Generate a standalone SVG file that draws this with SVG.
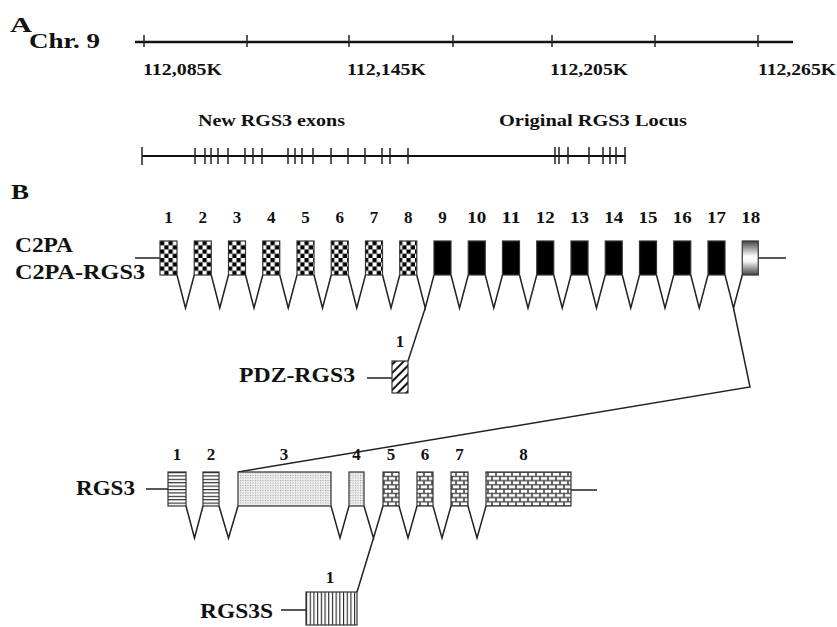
<svg xmlns="http://www.w3.org/2000/svg" width="837" height="627" viewBox="0 0 837 627">
<style>
text{font-family:"Liberation Serif","Times New Roman",serif;font-weight:bold;fill:#111}
.lbl{font-size:22px}
.num{font-size:17px;text-anchor:middle}
.ax{font-size:16px}
.ln{stroke:#222;stroke-width:1.5;fill:none}
.chr{stroke:#111;stroke-width:2.5;fill:none}
.tk{stroke:#222;stroke-width:1.5}
.ex{stroke:#333;stroke-width:1.2}
</style>
<defs>
<pattern id="checker" patternUnits="userSpaceOnUse" width="8.5" height="8.5" x="160" y="241">
<rect width="8.5" height="8.5" fill="#fff"/>
<rect width="4.25" height="4.25" fill="#000"/>
<rect x="4.25" y="4.25" width="4.25" height="4.25" fill="#000"/>
</pattern>
<pattern id="hatch" patternUnits="userSpaceOnUse" width="6" height="6" patternTransform="rotate(45)">
<rect width="6" height="6" fill="#fff"/>
<rect width="2" height="6" fill="#111"/>
</pattern>
<pattern id="hlines" patternUnits="userSpaceOnUse" width="4" height="3.4" y="472">
<rect width="4" height="3.4" fill="#fff"/>
<rect width="4" height="1.1" fill="#222"/>
</pattern>
<pattern id="vlines" patternUnits="userSpaceOnUse" width="3.7" height="4" x="306">
<rect width="3.7" height="4" fill="#fff"/>
<rect width="1.1" height="4" fill="#222"/>
</pattern>
<pattern id="dots" patternUnits="userSpaceOnUse" width="2.5" height="2.5">
<rect width="2.5" height="2.5" fill="#eee"/>
<rect width="1" height="1" fill="#999"/>
</pattern>
<pattern id="brick" patternUnits="userSpaceOnUse" width="8" height="8.5" y="472">
<rect width="8" height="8.5" fill="#444"/>
<rect x="0.8" y="0.8" width="6.4" height="2.9" fill="#fff"/>
<rect x="-3.2" y="5" width="6.4" height="2.9" fill="#fff"/>
<rect x="4.8" y="5" width="6.4" height="2.9" fill="#fff"/>
</pattern>
<linearGradient id="grad18" x1="0" y1="0" x2="0" y2="1">
<stop offset="0" stop-color="#444"/>
<stop offset="0.45" stop-color="#fff"/>
<stop offset="0.6" stop-color="#f4f4f4"/>
<stop offset="1" stop-color="#444"/>
</linearGradient>
</defs>
<rect width="837" height="627" fill="#fff"/>

<!-- Panel A -->
<g id="panelA">
<text class="lbl" x="10" y="32" textLength="22" lengthAdjust="spacingAndGlyphs">A</text>
<text class="lbl" x="29" y="48" textLength="71" lengthAdjust="spacingAndGlyphs">Chr. 9</text>
<line class="chr" x1="135" y1="42" x2="793" y2="42"/>
<g class="tk">
<line x1="144" y1="35" x2="144" y2="47"/><line x1="247" y1="35" x2="247" y2="47"/><line x1="349" y1="35" x2="349" y2="47"/><line x1="453" y1="35" x2="453" y2="47"/><line x1="552" y1="35" x2="552" y2="47"/><line x1="655" y1="35" x2="655" y2="47"/><line x1="758" y1="35" x2="758" y2="47"/>
</g>
<text class="ax" x="143" y="75" textLength="79" lengthAdjust="spacingAndGlyphs">112,085K</text>
<text class="ax" x="347" y="75" textLength="79" lengthAdjust="spacingAndGlyphs">112,145K</text>
<text class="ax" x="550" y="75" textLength="78" lengthAdjust="spacingAndGlyphs">112,205K</text>
<text class="ax" x="758" y="75" textLength="78" lengthAdjust="spacingAndGlyphs">112,265K</text>
<text class="ax" x="198" y="126" style="font-size:17px" textLength="147" lengthAdjust="spacingAndGlyphs">New RGS3 exons</text>
<text class="ax" x="499" y="126" style="font-size:17px" textLength="188" lengthAdjust="spacingAndGlyphs">Original RGS3 Locus</text>
<line class="chr" x1="142" y1="156" x2="626" y2="156" style="stroke-width:2"/>
<path class="tk" d="M142 147V165M195 148V164M205 148V164M211 148V164M218 148V164M228 148V164M245 148V164M253 148V164M262 148V164M288 148V164M295 148V164M302 148V164M313 148V164M331 148V164M348 148V164M365 148V164M382 148V164M390 148V164M408 148V164M555 147V164M559 147V164M568 147V164M589 147V164M603 147V164M610 147V164M616 147V164M625 147V164"/>
</g>

<!-- Panel B -->
<text class="lbl" x="11" y="199" textLength="18" lengthAdjust="spacingAndGlyphs">B</text>

<g id="connectors">
<line class="ln" x1="135" y1="258" x2="160" y2="258"/>
<line class="ln" x1="758" y1="258" x2="786" y2="258"/>
<polyline class="ln" points="177,275 185.5,308 194.25,275"/>
<polyline class="ln" points="211.25,275 219.75,308 228.5,275"/>
<polyline class="ln" points="245.5,275 254,308 262.75,275"/>
<polyline class="ln" points="279.75,275 288.25,308 297,275"/>
<polyline class="ln" points="314,275 322.5,308 331.25,275"/>
<polyline class="ln" points="348.25,275 356.75,308 365.5,275"/>
<polyline class="ln" points="382.5,275 391,308 399.75,275"/>
<polyline class="ln" points="416.75,275 425.25,308 434,275"/>
<polyline class="ln" points="451,275 459.5,308 468.25,275"/>
<polyline class="ln" points="485.25,275 493.75,308 502.5,275"/>
<polyline class="ln" points="519.5,275 528,308 536.75,275"/>
<polyline class="ln" points="553.75,275 562.25,308 571,275"/>
<polyline class="ln" points="588,275 596.5,308 605.25,275"/>
<polyline class="ln" points="622.25,275 630.75,308 639.5,275"/>
<polyline class="ln" points="656.5,275 665,308 673.75,275"/>
<polyline class="ln" points="690.75,275 699.25,308 708,275"/>
<polyline class="ln" points="725,275 733.5,308 742.25,275"/>
<line class="ln" x1="425.25" y1="308" x2="408" y2="361"/>
<line class="ln" x1="367" y1="378" x2="392" y2="378"/>
<polyline class="ln" points="733.5,308 750,387 238,472"/>
<line class="ln" x1="146" y1="489" x2="168" y2="489"/>
<line class="ln" x1="571" y1="490" x2="597" y2="490"/>
<polyline class="ln" points="186,506 194.5,538 203,506"/>
<polyline class="ln" points="219,506 228.5,538 238,506"/>
<polyline class="ln" points="331,506 340,538 349,506"/>
<polyline class="ln" points="364,506 373.5,538 383,506"/>
<polyline class="ln" points="399,506 408,538 417,506"/>
<polyline class="ln" points="433,506 442,538 451,506"/>
<polyline class="ln" points="468,506 477,538 486,506"/>
<line class="ln" x1="373.5" y1="538" x2="357" y2="592"/>
<line class="ln" x1="281" y1="610" x2="306" y2="610"/>
</g>

<g id="C2PA">
<text class="lbl" x="15" y="252" textLength="58" lengthAdjust="spacingAndGlyphs">C2PA</text>
<text class="lbl" x="15" y="279" textLength="130" lengthAdjust="spacingAndGlyphs">C2PA-RGS3</text>
<g class="num">
<text x="168.5" y="223">1</text><text x="202.75" y="223">2</text><text x="237" y="223">3</text><text x="271.25" y="223">4</text><text x="305.5" y="223">5</text><text x="339.75" y="223">6</text><text x="374" y="223">7</text><text x="408.25" y="223">8</text><text x="442.5" y="223">9</text>
<text x="476.75" y="223" textLength="19" lengthAdjust="spacingAndGlyphs">10</text><text x="511" y="223" textLength="19" lengthAdjust="spacingAndGlyphs">11</text><text x="545.25" y="223" textLength="19" lengthAdjust="spacingAndGlyphs">12</text><text x="579.5" y="223" textLength="19" lengthAdjust="spacingAndGlyphs">13</text><text x="613.75" y="223" textLength="19" lengthAdjust="spacingAndGlyphs">14</text><text x="648" y="223" textLength="19" lengthAdjust="spacingAndGlyphs">15</text><text x="682.25" y="223" textLength="19" lengthAdjust="spacingAndGlyphs">16</text><text x="716.5" y="223" textLength="19" lengthAdjust="spacingAndGlyphs">17</text><text x="750.75" y="223" textLength="19" lengthAdjust="spacingAndGlyphs">18</text>
</g>
<g class="ex" fill="url(#checker)">
<rect x="160" y="241" width="17" height="34"/><rect x="194.25" y="241" width="17" height="34"/><rect x="228.5" y="241" width="17" height="34"/><rect x="262.75" y="241" width="17" height="34"/><rect x="297" y="241" width="17" height="34"/><rect x="331.25" y="241" width="17" height="34"/><rect x="365.5" y="241" width="17" height="34"/><rect x="399.75" y="241" width="17" height="34"/>
</g>
<g class="ex" fill="#000">
<rect x="434" y="241" width="17" height="34"/><rect x="468.25" y="241" width="17" height="34"/><rect x="502.5" y="241" width="17" height="34"/><rect x="536.75" y="241" width="17" height="34"/><rect x="571" y="241" width="17" height="34"/><rect x="605.25" y="241" width="17" height="34"/><rect x="639.5" y="241" width="17" height="34"/><rect x="673.75" y="241" width="17" height="34"/><rect x="708" y="241" width="17" height="34"/>
</g>
<rect class="ex" x="742.25" y="241" width="16" height="34" fill="url(#grad18)"/>
</g>

<g id="PDZ-RGS3">
<text class="lbl" x="239" y="382" textLength="116" lengthAdjust="spacingAndGlyphs">PDZ-RGS3</text>
<text class="num" x="400" y="347">1</text>
<rect class="ex" x="392" y="361" width="16" height="32" fill="url(#hatch)"/>
</g>

<g id="RGS3">
<text class="lbl" x="76" y="495" textLength="59" lengthAdjust="spacingAndGlyphs">RGS3</text>
<g class="num">
<text x="177" y="460">1</text><text x="211" y="460">2</text><text x="284" y="460">3</text><text x="356.5" y="460">4</text><text x="391" y="460">5</text><text x="425" y="460">6</text><text x="459.5" y="460">7</text><text x="523.5" y="460">8</text>
</g>
<rect class="ex" x="168" y="472" width="18" height="34" fill="url(#hlines)"/>
<rect class="ex" x="203" y="472" width="16" height="34" fill="url(#hlines)"/>
<rect class="ex" x="238" y="472" width="93" height="34" fill="url(#dots)"/>
<rect class="ex" x="349" y="472" width="15" height="34" fill="url(#dots)"/>
<rect class="ex" x="383" y="472" width="16" height="34" fill="url(#brick)"/>
<rect class="ex" x="417" y="472" width="16" height="34" fill="url(#brick)"/>
<rect class="ex" x="451" y="472" width="17" height="34" fill="url(#brick)"/>
<rect class="ex" x="486" y="472" width="85" height="34" fill="url(#brick)"/>
</g>

<g id="RGS3S">
<text class="lbl" x="200" y="618" textLength="73" lengthAdjust="spacingAndGlyphs">RGS3S</text>
<text class="num" x="330" y="583">1</text>
<rect class="ex" x="306" y="592" width="51" height="33" fill="url(#vlines)"/>
</g>
</svg>
